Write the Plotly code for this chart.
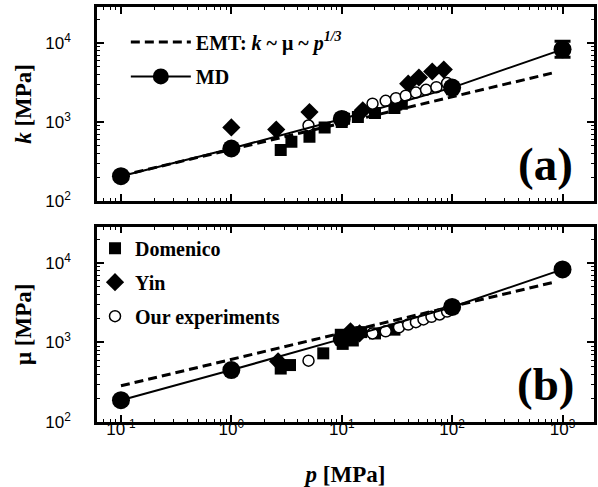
import plotly.graph_objects as go

# ---------------- data ----------------
p_md = [0.1, 1, 10, 100, 1000]
k_md = [205, 460, 1090, 2720, 8300]
mu_md = [188, 450, 1110, 2800, 8300]
k_md_err_plus = [0, 0, 0, 0, 2200]
k_md_err_minus = [0, 0, 0, 0, 1700]

p_emt = [0.1, 800]
k_emt = [208, 4150]
mu_emt = [285, 5650]

p_dom_k = [2.8, 3.5, 5.1, 7.0, 10, 10.5, 14, 20, 30, 35, 100]
k_dom = [440, 560, 650, 850, 1000, 1100, 1150, 1300, 1500, 1700, 2600]
p_dom_mu = [2.8, 3.4, 6.8, 9.8, 10.2, 12.6, 15, 20, 30, 100]
mu_dom = [470, 520, 730, 1250, 960, 1060, 1350, 1300, 1450, 2700]

p_yin_k = [1.0, 2.55, 5.1, 15.5, 40, 50, 66, 84]
k_yin = [850, 800, 1330, 1400, 3050, 3650, 4350, 4600]
p_yin_mu = [2.65, 12, 14.5]
mu_yin = [580, 1380, 1300]

p_our_k = [5, 10.5, 19, 25, 31, 38, 47, 58, 72, 90]
k_our = [900, 1150, 1700, 1850, 2000, 2150, 2350, 2550, 2750, 3100]
p_our_mu = [5, 19, 25, 33, 40, 47, 55, 65, 77, 90]
mu_our = [590, 1300, 1380, 1550, 1680, 1800, 1950, 2100, 2250, 2450]

x_tickvals = [0.1, 1, 10, 100, 1000]
x_ticktext = ["10<sup>-1</sup>", "10<sup>0</sup>", "10<sup>1</sup>", "10<sup>2</sup>", "10<sup>3</sup>"]
y_tickvals = [100, 1000, 10000]
y_ticktext = ["10<sup>2</sup>", "10<sup>3</sup>", "10<sup>4</sup>"]
minor_vals = [m * 10.0 ** e for e in range(-2, 5) for m in range(2, 10)]

# ---------------- figure ----------------
fig = go.Figure()
SERIF = "Liberation Serif"

def add_panel(xa, ya, y_md, y_emt, p_dom, y_dom, p_yin, y_yin, p_our, y_our, show_exp, err):
    fig.add_trace(go.Scatter(x=p_emt, y=y_emt, mode="lines", xaxis=xa, yaxis=ya,
                             line=dict(color="black", width=3, dash="9px,5px"),
                             name="EMT: <i>k</i> ~ μ ~ <i>p</i><sup><i>1/3</i></sup>",
                             legend="legend", showlegend=not show_exp))
    fig.add_trace(go.Scatter(x=p_dom, y=y_dom, mode="markers", xaxis=xa, yaxis=ya,
                             marker=dict(symbol="square", size=12, color="black"),
                             name="Domenico", legend="legend2", legendgroup="dom",
                             showlegend=show_exp))
    fig.add_trace(go.Scatter(x=p_yin, y=y_yin, mode="markers", xaxis=xa, yaxis=ya,
                             marker=dict(symbol="diamond", size=14, color="black"),
                             name="Yin", legend="legend2", legendgroup="yin",
                             showlegend=show_exp))
    fig.add_trace(go.Scatter(x=p_our, y=y_our, mode="markers", xaxis=xa, yaxis=ya,
                             marker=dict(symbol="circle", size=11, color="white",
                                         line=dict(color="black", width=1.5)),
                             name="Our experiments", legend="legend2", legendgroup="our",
                             showlegend=show_exp))
    ey = None
    if err:
        ey = dict(type="data", symmetric=False, array=k_md_err_plus,
                  arrayminus=k_md_err_minus, color="black", thickness=3, width=8)
    fig.add_trace(go.Scatter(x=p_md, y=y_md, mode="lines+markers", xaxis=xa, yaxis=ya,
                             line=dict(color="black", width=2),
                             marker=dict(symbol="circle", size=18, color="black"),
                             error_y=ey, name="MD", legend="legend3",
                             showlegend=not show_exp))

add_panel("x", "y", k_md, k_emt, p_dom_k, k_dom, p_yin_k, k_yin, p_our_k, k_our, False, True)
add_panel("x2", "y2", mu_md, mu_emt, p_dom_mu, mu_dom, p_yin_mu, mu_yin, p_our_mu, mu_our, True, False)

xr = [-1.217, 3.285]
yr = [2, 4.456]
axcommon = dict(type="log", showline=True, linewidth=2.5, linecolor="black", mirror="ticks",
                ticks="inside", ticklen=7, tickwidth=1.5, tickcolor="black",
                showgrid=False, zeroline=False, automargin=False,
                minor=dict(ticks="inside", ticklen=3.5, tickwidth=1, tickcolor="black",
                           tickvals=minor_vals, showgrid=False),
                tickfont=dict(family="Liberation Sans", size=17, color="black"))
title_font = dict(family=SERIF, size=23, color="black", weight="bold")
leg_font = dict(family=SERIF, size=20, color="black", weight="bold")

fig.update_layout(
    width=598, height=487,
    margin=dict(l=97, r=3.5, t=7, b=65),
    paper_bgcolor="white", plot_bgcolor="white",
    xaxis=dict(**axcommon, range=xr, domain=[0, 1], anchor="y",
               tickvals=x_tickvals, ticktext=x_ticktext, showticklabels=False),
    yaxis=dict(**axcommon, range=yr, domain=[0.533, 1], anchor="x",
               tickvals=y_tickvals, ticktext=y_ticktext, ticklabelstandoff=20,
               title=dict(text="<i>k</i> [MPa]", standoff=8, font=title_font)),
    xaxis2=dict(**axcommon, range=xr, domain=[0, 1], anchor="y2",
                tickvals=x_tickvals, ticktext=x_ticktext, ticklabelstandoff=-10,
                title=dict(text="<i>p</i> [MPa]", standoff=30, font=title_font)),
    yaxis2=dict(**axcommon, range=yr, domain=[0, 0.4706], anchor="x2",
                tickvals=y_tickvals, ticktext=y_ticktext, ticklabelstandoff=20,
                title=dict(text="μ [MPa]", standoff=8, font=title_font)),
    legend=dict(x=0.058, y=0.9627, xanchor="left", yanchor="top", bgcolor="rgba(0,0,0,0)",
                font=leg_font, itemwidth=60),
    legend3=dict(x=0.058, y=0.8796, xanchor="left", yanchor="top", bgcolor="rgba(0,0,0,0)",
                 font=leg_font, itemwidth=60),
    legend2=dict(x=-0.004, y=0.4658, xanchor="left", yanchor="top", bgcolor="rgba(0,0,0,0)",
                 font=leg_font, itemwidth=30, traceorder="grouped", tracegroupgap=5),
    showlegend=True,
)

fig.add_annotation(text="(a)", xref="paper", yref="paper", x=0.9025, y=0.6217,
                   xanchor="center", yanchor="middle", showarrow=False,
                   font=dict(family=SERIF, size=47, color="black", weight="bold"))
fig.add_annotation(text="(b)", xref="paper", yref="paper", x=0.9025, y=0.0916,
                   xanchor="center", yanchor="middle", showarrow=False,
                   font=dict(family=SERIF, size=47, color="black", weight="bold"))

fig.write_html("out.html", config={"displayModeBar": False},
               post_script="document.body.style.margin='0';document.body.style.overflow='hidden';")
